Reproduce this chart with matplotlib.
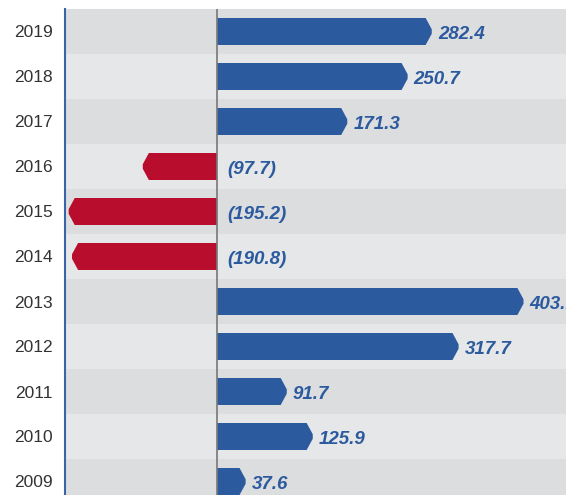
import matplotlib.pyplot as plt
from matplotlib.patches import Polygon

years = [2019, 2018, 2017, 2016, 2015, 2014, 2013, 2012, 2011, 2010, 2009]
values = [282.4, 250.7, 171.3, -97.7, -195.2, -190.8, 403.1, 317.7, 91.7, 125.9, 37.6]

blue = "#2c5a9e"
red = "#b80d2c"
band_dark = "#dcdddf"
band_light = "#e6e7e9"

fig = plt.figure(figsize=(5.66, 4.95), dpi=100)
ax = fig.add_axes([65 / 566, 0, 1 - 65 / 566, 1 - 9 / 495])

n = len(years)
half = 0.3    # half bar height (rows are 1 unit)
tip = 8       # length of the pointed end, in data units

for i, (yr, v) in enumerate(zip(years, values)):
    y = n - 1 - i
    ax.axhspan(y - 0.5, y + 0.5, color=band_dark if i % 2 == 0 else band_light,
               lw=0, zorder=0)
    s = 1 if v >= 0 else -1
    pts = [(0, y - half), (v - s * tip, y - half), (v, y - 0.05),
           (v, y + 0.05), (v - s * tip, y + half), (0, y + half)]
    ax.add_patch(Polygon(pts, closed=True, facecolor=blue if v >= 0 else red,
                         edgecolor="none", zorder=2))
    lbl = f"{v:.1f}" if v >= 0 else f"({-v:.1f})"
    x = v + 8 if v >= 0 else 13
    ax.text(x, y - 0.06, lbl, color=blue, fontsize=13.5, family="Liberation Sans",
            fontweight="bold", fontstyle="italic", va="center", ha="left")

ax.axvline(0, color="#777777", lw=1.2, zorder=3)

ax.set_xlim(-200, 459)
ax.set_ylim(10.5 - 486 / 45, 10.5)
ax.set_yticks(range(n - 1, -1, -1))
ax.set_yticklabels([str(y) for y in years], fontsize=12.5, color="#333333",
                   family="Liberation Sans")
ax.tick_params(axis="y", length=0, pad=9)
ax.set_xticks([])

for side in ["top", "right", "bottom"]:
    ax.spines[side].set_visible(False)
ax.spines["left"].set_color("#3a64a8")
ax.spines["left"].set_linewidth(1.5)

fig.savefig("out.png", dpi=100)
